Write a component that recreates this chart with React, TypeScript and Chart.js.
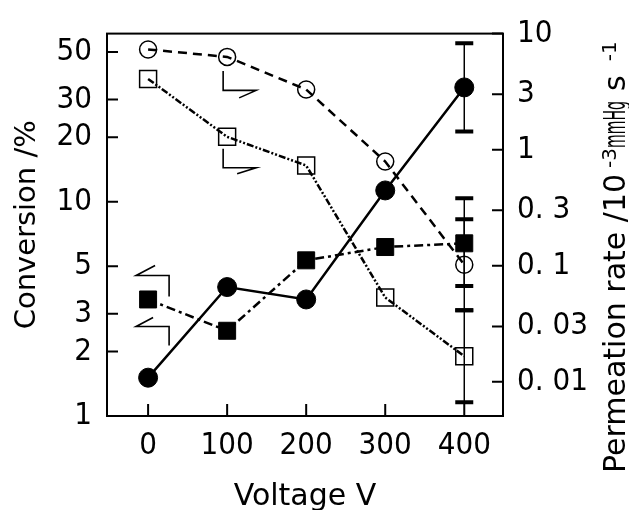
import React, { useEffect, useRef } from 'react';
import { Chart, registerables } from 'chart.js';

Chart.register(...registerables);

// ---------- data ----------
const voltages = [0, 100, 200, 300, 400];
const conversionFilledCircle = [1.51, 4.0, 3.5, 11.3, 34.2];
const conversionFilledSquare = [3.5, 2.5, 5.33, 6.15, 6.4];
const permeationOpenCircle = [7.3, 6.3, 3.3, 0.79, 0.102];
const permeationOpenSquare = [4.07, 1.29, 0.73, 0.0532, 0.0166];

const errLowFilledCircle = [null, null, null, null, 21.3];
const errHighFilledCircle = [null, null, null, null, 55];
const errLowFilledSquare = [null, null, null, null, 4.05];
const errHighFilledSquare = [null, null, null, null, 10.4];
const errLowOpenCircle = [null, null, null, null, 0.0413];
const errHighOpenCircle = [null, null, null, null, 0.252];
const errLowOpenSquare = [null, null, null, null, 0.00665];
const errHighOpenSquare = [null, null, null, null, 0.0413];

const leftTicks = [1, 2, 3, 5, 10, 20, 30, 50];
const leftTickLabels = ['1', '2', '3', '5', '10', '20', '30', '50'];
const rightTicks = [0.01, 0.03, 0.1, 0.3, 1, 3, 10];
const rightTickLabels = ['0. 01', '0. 03', '0. 1', '0. 3', '1', '3', '10'];
const xTicks = [0, 100, 200, 300, 400];
const xTickLabels = ['0', '100', '200', '300', '400'];

// ---------- styling helpers ----------
const tickFont = { family: "'Liberation Sans Narrow', 'DejaVu Sans Condensed', sans-serif", size: 31 };
const titleFamily = "'DejaVu Sans', sans-serif";

const errorSets = [
  { lo: errLowFilledCircle, hi: errHighFilledCircle },
  { lo: errLowFilledSquare, hi: errHighFilledSquare },
  { lo: errLowOpenCircle, hi: errHighOpenCircle },
  { lo: errLowOpenSquare, hi: errHighOpenSquare },
];

// annotation arrows: anchored at a dataset point, pixel offsets from it
const arrowShapes = [
  { ds: 2, idx: 1, path: [[-4, 14], [-4, 33.5], [29, 33.5], [12, 41]] },
  { ds: 3, idx: 1, path: [[-4, 12], [-4, 31], [29, 31], [10, 37]] },
  { ds: 1, idx: 0, path: [[21, -3], [21, -24], [-12, -24], [7, -34]] },
  { ds: 1, idx: 0, path: [[21, 46], [21, 27], [-12, 27], [5, 18]] },
];

const decorPlugin = {
  id: 'decor',
  beforeDatasetsDraw(chart: any) {
    const ctx = chart.ctx;
    const xs = chart.scales.x;
    ctx.save();
    ctx.strokeStyle = '#000';
    chart.data.datasets.forEach((ds: any, di: number) => {
      const ys = chart.scales[ds.yAxisID];
      const es = errorSets[di];
      voltages.forEach((v, i) => {
        const lo = es.lo[i];
        const hi = es.hi[i];
        if (lo == null || hi == null) return;
        const px = xs.getPixelForValue(v);
        const yl = ys.getPixelForValue(lo);
        const yh = ys.getPixelForValue(hi);
        ctx.lineWidth = 1.5;
        ctx.beginPath();
        ctx.moveTo(px, yl);
        ctx.lineTo(px, yh);
        ctx.stroke();
        ctx.lineWidth = 4;
        ctx.beginPath();
        ctx.moveTo(px - 9, yl);
        ctx.lineTo(px + 9, yl);
        ctx.moveTo(px - 9, yh);
        ctx.lineTo(px + 9, yh);
        ctx.stroke();
      });
    });
    ctx.restore();
  },
  afterDraw(chart: any) {
    const ctx = chart.ctx;
    const a = chart.chartArea;
    ctx.save();
    ctx.strokeStyle = '#000';
    ctx.lineWidth = 2;
    ctx.strokeRect(a.left, a.top, a.right - a.left, a.bottom - a.top);
    // inward ticks
    const ys = chart.scales.y;
    const y1 = chart.scales.y1;
    const xs = chart.scales.x;
    ctx.beginPath();
    leftTicks.forEach((t) => {
      const p = ys.getPixelForValue(t);
      ctx.moveTo(a.left, p);
      ctx.lineTo(a.left + 11, p);
    });
    rightTicks.forEach((t) => {
      const p = y1.getPixelForValue(t);
      ctx.moveTo(a.right, p);
      ctx.lineTo(a.right - 11, p);
    });
    xTicks.forEach((t) => {
      const p = xs.getPixelForValue(t);
      ctx.moveTo(p, a.bottom);
      ctx.lineTo(p, a.bottom - 12);
    });
    ctx.stroke();
    // arrows
    ctx.lineWidth = 1.6;
    arrowShapes.forEach((ar) => {
      const el = chart.getDatasetMeta(ar.ds).data[ar.idx];
      ctx.beginPath();
      ar.path.forEach(([dx, dy], k) => {
        if (k === 0) ctx.moveTo(el.x + dx, el.y + dy);
        else ctx.lineTo(el.x + dx, el.y + dy);
      });
      ctx.stroke();
    });
    // right axis title (reads bottom to top)
    ctx.fillStyle = '#000';
    ctx.translate(625, 473);
    ctx.rotate(-Math.PI / 2);
    ctx.textBaseline = 'alphabetic';
    ctx.textAlign = 'left';
    let pos = 0;
    ctx.font = `30px ${titleFamily}`;
    const main = 'Permeation rate /10';
    ctx.fillText(main, pos, 0);
    pos += ctx.measureText(main).width + 6;
    ctx.font = `20px ${titleFamily}`;
    ctx.fillText('-3', pos, -9);
    pos += ctx.measureText('-3').width;
    ctx.font = `30px ${titleFamily}`;
    const mw = ctx.measureText('mmHg').width;
    ctx.save();
    ctx.translate(pos, 0);
    ctx.scale(47 / mw, 1);
    ctx.fillText('mmHg', 0, 0);
    ctx.restore();
    pos += 47 + 10;
    ctx.fillText('s', pos, 0);
    pos += ctx.measureText('s').width + 14;
    ctx.font = `20px ${titleFamily}`;
    ctx.fillText('-1', pos, -9);
    ctx.restore();
  },
};

export default function App() {
  const ref = useRef<HTMLCanvasElement | null>(null);
  useEffect(() => {
    if (!ref.current) return;
    const mk = (vals: number[]) => voltages.map((x, i) => ({ x, y: vals[i] }));
    const chart = new Chart(ref.current, {
      type: 'line',
      data: {
        datasets: [
          {
            label: 'Conversion (●)',
            data: mk(conversionFilledCircle),
            yAxisID: 'y',
            borderColor: '#000',
            backgroundColor: '#000',
            borderWidth: 2.5,
            pointStyle: 'circle',
            pointRadius: 9.5,
            pointBorderWidth: 1,
            pointBorderColor: '#000',
            pointBackgroundColor: '#000',
            tension: 0,
          },
          {
            label: 'Conversion (■)',
            data: mk(conversionFilledSquare),
            yAxisID: 'y',
            borderColor: '#000',
            backgroundColor: '#000',
            borderWidth: 2.5,
            borderDash: [9, 4, 3, 4],
            pointStyle: 'rect',
            pointRadius: 12,
            pointBorderWidth: 1,
            pointBorderColor: '#000',
            pointBackgroundColor: '#000',
            tension: 0,
          },
          {
            label: 'Permeation rate (○)',
            data: mk(permeationOpenCircle),
            yAxisID: 'y1',
            borderColor: '#000',
            backgroundColor: 'rgba(0,0,0,0)',
            borderWidth: 2.5,
            borderDash: [9, 6],
            pointStyle: 'circle',
            pointRadius: 8.5,
            pointBorderWidth: 1.5,
            pointBorderColor: '#000',
            pointBackgroundColor: 'rgba(0,0,0,0)',
            tension: 0,
          },
          {
            label: 'Permeation rate (□)',
            data: mk(permeationOpenSquare),
            yAxisID: 'y1',
            borderColor: '#000',
            backgroundColor: 'rgba(0,0,0,0)',
            borderWidth: 2.5,
            borderDash: [7, 2, 2, 2, 2, 2],
            pointStyle: 'rect',
            pointRadius: 12,
            pointBorderWidth: 1.5,
            pointBorderColor: '#000',
            pointBackgroundColor: 'rgba(0,0,0,0)',
            tension: 0,
          },
        ],
      },
      options: {
        animation: false,
        responsive: false,
        events: [],
        layout: { padding: { top: 25, left: 0, right: 0, bottom: 0 } },
        plugins: { legend: { display: false }, tooltip: { enabled: false } },
        scales: {
          x: {
            type: 'linear',
            position: 'bottom',
            min: -52,
            max: 449,
            afterBuildTicks: (s: any) => {
              s.ticks = xTicks.map((v) => ({ value: v }));
            },
            afterFit: (s: any) => {
              s.height = 94;
            },
            grid: { display: false, drawTicks: false },
            border: { display: false },
            ticks: {
              font: tickFont,
              color: '#000',
              padding: 11,
              maxRotation: 0,
              autoSkip: false,
              callback: (_v: any, i: number) => xTickLabels[i],
            },
            title: {
              display: true,
              text: 'Voltage V',
              color: '#000',
              font: { family: titleFamily, size: 30, lineHeight: 1 },
              padding: { top: 0, bottom: -2 },
            },
          },
          y: {
            type: 'logarithmic',
            position: 'left',
            min: 1,
            max: 61,
            afterBuildTicks: (s: any) => {
              s.ticks = leftTicks.map((v) => ({ value: v }));
            },
            afterFit: (s: any) => {
              s.width = 107;
            },
            grid: { display: false, drawTicks: false },
            border: { display: false },
            ticks: {
              font: tickFont,
              color: '#000',
              padding: 15,
              autoSkip: false,
              callback: (_v: any, i: number) => leftTickLabels[i],
            },
            title: {
              display: true,
              text: 'Conversion /%',
              color: '#000',
              font: { family: titleFamily, size: 29, lineHeight: 1 },
              padding: { top: 13, bottom: 0 },
            },
          },
          y1: {
            type: 'logarithmic',
            position: 'right',
            min: 0.00507,
            max: 10,
            afterBuildTicks: (s: any) => {
              s.ticks = rightTicks.map((v) => ({ value: v }));
            },
            afterFit: (s: any) => {
              s.width = 126;
            },
            grid: { display: false, drawTicks: false },
            border: { display: false },
            ticks: {
              font: tickFont,
              color: '#000',
              padding: 14,
              autoSkip: false,
              callback: (_v: any, i: number) => rightTickLabels[i],
            },
            title: { display: false },
          },
        },
      },
      plugins: [decorPlugin],
    } as any);
    return () => chart.destroy();
  }, []);
  return (
    <div style={{ position: 'absolute', left: 0, top: 0, width: 629, height: 510, background: '#fff' }}>
      <canvas ref={ref} width={629} height={510} style={{ display: 'block' }} />
    </div>
  );
}
